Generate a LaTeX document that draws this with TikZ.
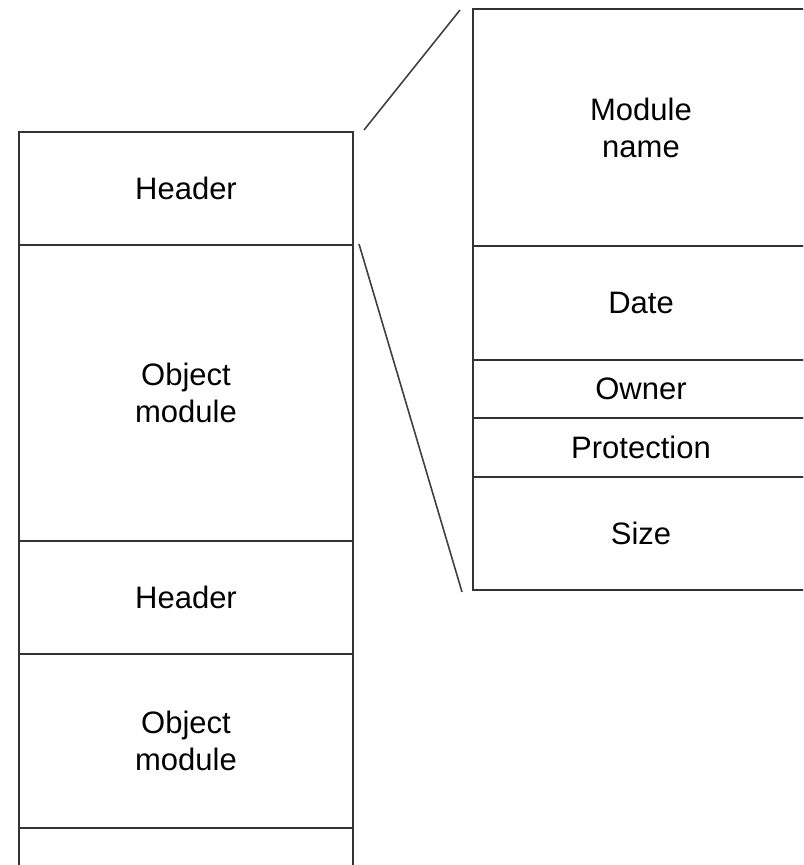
\documentclass[tikz,border=0pt]{standalone}
\usepackage{fontspec}
\setmainfont{Liberation Sans}

\begin{document}
\begin{tikzpicture}[x=0.5pt, y=-0.5pt,
  cell/.style={rectangle, draw=black!80, line width=1pt, inner sep=0pt,
    align=center, font=\fontsize{15.5}{18.5}\selectfont},
  link/.style={draw=black!75, line width=0.8pt}]
  \useasboundingbox (0, 0) rectangle (803, 865);
  \clip (0, 0) rectangle (803, 865);

  % left column
  \node[cell, minimum width=167pt, minimum height=56.5pt] (h1) at (186, 188.5) {Header};
  \node[cell, minimum width=167pt, minimum height=148pt] (m1) at (186, 393) {Object\\module};
  \node[cell, minimum width=167pt, minimum height=56.5pt] (h2) at (186, 597.5) {Header};
  \node[cell, minimum width=167pt, minimum height=87pt] (m2) at (186, 741) {Object\\module};
  \node[cell, minimum width=167pt, minimum height=50pt] (m3) at (186, 878) {};

  % right column
  \node[cell, minimum width=168pt, minimum height=118.5pt] (name) at (641, 127.5) {Module\\name};
  \node[cell, minimum width=168pt, minimum height=57pt] (date) at (641, 303) {Date};
  \node[cell, minimum width=168pt, minimum height=29pt] (owner) at (641, 389) {Owner};
  \node[cell, minimum width=168pt, minimum height=29.5pt] (prot) at (641, 447.5) {Protection};
  \node[cell, minimum width=168pt, minimum height=56.5pt] (size) at (641, 533.5) {Size};

  \draw[link] ([shift={(10, -1)}]h1.north east) -- ([shift={(-12, 2)}]name.north west);
  \draw[link] ([shift={(5, -2)}]h1.south east) -- ([shift={(-10, 1)}]size.south west);
\end{tikzpicture}
\end{document}
